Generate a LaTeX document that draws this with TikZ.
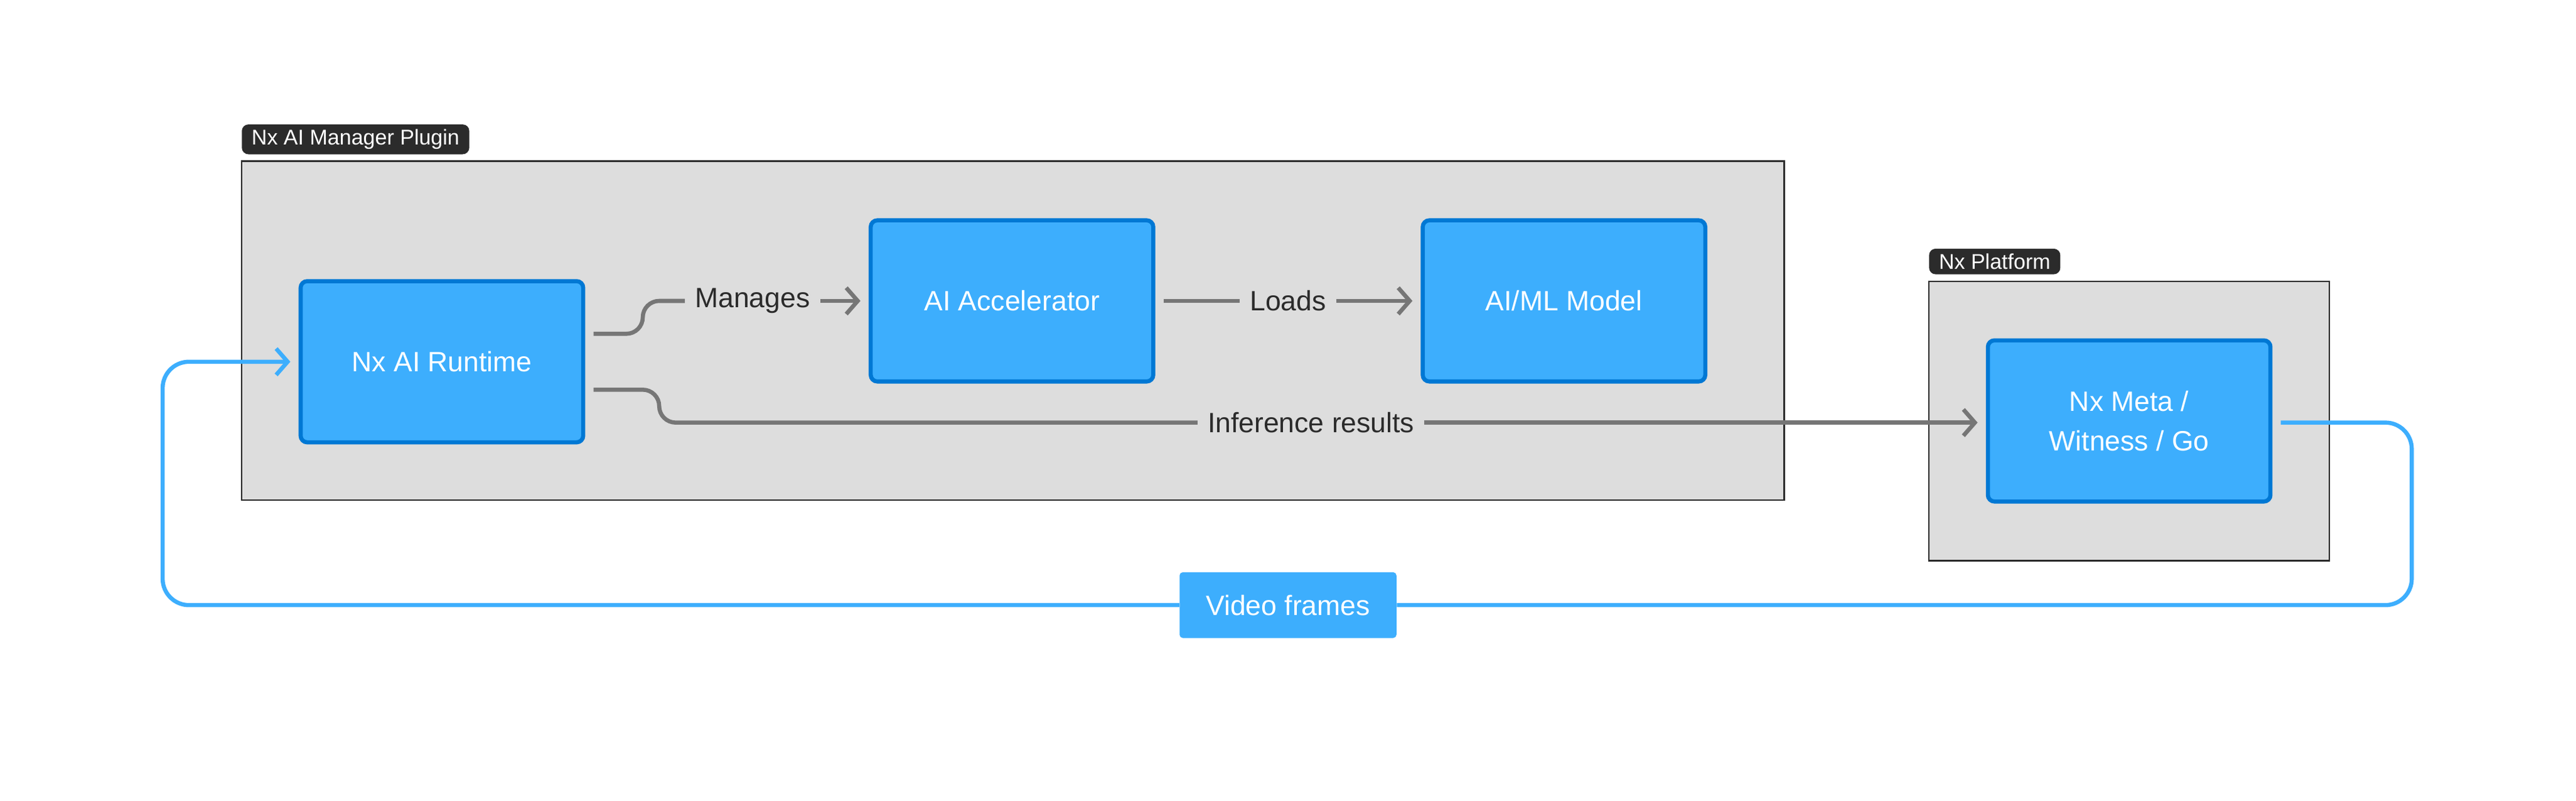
\documentclass[tikz,border=0pt]{standalone}
\usepackage{fontspec}
\setmainfont{Liberation Sans}
\usetikzlibrary{arrows.meta}
\usetikzlibrary{positioning}

\definecolor{boxblue}{HTML}{3DAEFD}
\definecolor{edgeblue}{HTML}{0078D4}
\definecolor{flowgray}{HTML}{767676}
\definecolor{groupfill}{HTML}{DDDDDD}
\definecolor{tagdark}{HTML}{2B2B2B}

\begin{document}
\begin{tikzpicture}[x = 1pt, y = -1pt]
\tikzset{BlockStyle/.style = {draw = edgeblue, fill = boxblue, line width = 2.5pt,
                             rounded corners = 4pt, minimum width = 172pt,
                             minimum height = 98pt, text = white, font = \fontsize{17}{24}\selectfont,
                             align = center},
         GroupStyle/.style = {draw = tagdark, fill = groupfill, line width = 0.8pt},
         TagStyle/.style = {fill = tagdark, text = white, rounded corners = 4pt,
                             inner xsep = 6pt, inner ysep = 3pt, anchor = south west,
                             font = \fontsize{13}{15}\selectfont},
         FlowStyle/.style = {draw = flowgray, line width = 2.5pt, rounded corners = 10pt},
         LoopStyle/.style = {draw = boxblue, line width = 2.5pt, rounded corners = 16pt},
         TipStyle/.style = {-{Straight Barb[length = 7pt, width = 16pt, line width = 2.5pt]}},
         WordStyle/.style = {fill = groupfill, font = \fontsize{17}{20}\selectfont,
                             text = tagdark, inner sep = 6pt}}
\useasboundingbox (0,0) rectangle (1568,487);
% groups
\draw[GroupStyle] (147,98) rectangle (1086,304);
\node[TagStyle] (tagPlugin) at (147,94) {Nx AI Manager Plugin};
\draw[GroupStyle] (1174,171) rectangle (1418,341);
\node[TagStyle] (tagPlatform) at (1174,167) {Nx Platform};
% blocks
\node[BlockStyle] (runtime) at (269,220) {Nx AI Runtime};
\node[BlockStyle] (accel) at (616,183) {AI Accelerator};
\node[BlockStyle] (model) at (952,183) {AI/ML Model};
\node[BlockStyle] (meta) at (1296,256) {Nx Meta /\\Witness / Go};
% labels
\node[WordStyle] (manages) at (458,183) {Manages};
\node[WordStyle] (loads) at (784,183) {Loads};
\node[WordStyle] (infer) at (798,257) {Inference results};
\node[fill = boxblue, text = white, rounded corners = 2pt, minimum width = 132pt,
      minimum height = 40pt, font = \fontsize{17}{20}\selectfont] (frames) at (784,368) {Video frames};
% flows
\coordinate (rtTop) at ([xshift = 5pt, yshift = 17pt]runtime.east);
\coordinate (rtBot) at ([xshift = 5pt, yshift = -17pt]runtime.east);
\draw[FlowStyle] (rtTop) -- ++(30,0) -- ++(0,-20) -- (manages.west);
\draw[FlowStyle, TipStyle] (manages.east) -- ([xshift = -5pt]accel.west);
\draw[FlowStyle] ([xshift = 5pt]accel.east) -- (loads.west);
\draw[FlowStyle, TipStyle] (loads.east) -- ([xshift = -5pt]model.west);
\draw[FlowStyle] (rtBot) -- ++(40,0) -- ++(0,20) -- (infer.west);
\draw[FlowStyle, TipStyle] (infer.east) -- ([xshift = -5pt, yshift = -1pt]meta.west);
% loop
\draw[LoopStyle] ([xshift = 5pt, yshift = -1pt]meta.east) -- (1468,257) -- (1468,368) -- (frames.east);
\draw[LoopStyle, TipStyle] (frames.west) -- (99,368) -- (99,220) -- ([xshift = -5pt]runtime.west);
\end{tikzpicture}
\end{document}
